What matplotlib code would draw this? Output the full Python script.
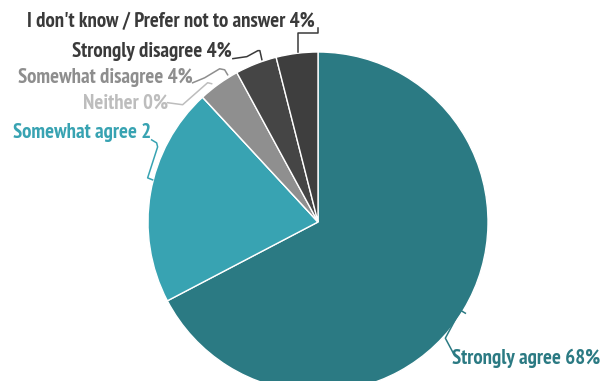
import matplotlib
matplotlib.use("Agg")
import matplotlib.pyplot as plt
import matplotlib.transforms as mtransforms
import numpy as np

# Survey responses
labels = ["Strongly agree 68%", "Somewhat agree 2", "Neither 0%",
          "Somewhat disagree 4%", "Strongly disagree 4%",
          "I don't know / Prefer not to answer 4%"]
values = [68, 21, 0, 4, 4, 4]
wedge_colors = ["#2b7a83", "#38a3b2", "#b9b9b9", "#8f8f8f", "#454545", "#3e3e3e"]
text_colors = ["#2b7a83", "#38a3b2", "#bdbdbd", "#8e8e8e", "#3a3a3a", "#3a3a3a"]

W, H = 611, 381
DPI = 100
fig = plt.figure(figsize=(W / DPI, H / DPI), dpi=DPI)

# pie geometry in pixels (y measured from top)
cx, cy, R = 318, 222, 170
ax = fig.add_axes([(cx - R) / W, (H - cy - R) / H, 2 * R / W, 2 * R / H])

wedges, _ = ax.pie(values, colors=wedge_colors, startangle=90, counterclock=False,
                   radius=1, wedgeprops=dict(edgecolor="white", linewidth=1.0))
ax.set_xlim(-1, 1)
ax.set_ylim(-1, 1)
ax.axis("off")

# leader paths (pixel offsets from each wedge's rim anchor) and label offsets
leaders = [
    [(-1, 1.4), (-6, -1.6), (-21, 26.4), (-13, 41.4)],
    [(5.5, -12.6), (0.5, -14.6), (10.5, -45.6), (9.5, -49.6), (4.5, -52.6)],
    [(11.4, -11), (7.4, -12), (-17.6, 10), (-32.6, 8)],
    [(10.7, -6.3), (7.7, -11.3), (2.7, -12.3), (-12.3, -3.3), (-24.3, 1.7)],
    [(7.1, -0.9), (5.1, -9.9), (3.1, -9.9), (-7.9, -3.9), (-21.9, -1.9)],
    [(1.4, 1.7), (1.4, -17.3), (21.4, -17.3), (21.4, -22.3)],
]
label_offsets = [(-14, 46.4, "left"), (4.5, -59.6, "right"), (-32.6, 8, "right"),
                 (-24.3, -3.3, "right"), (-22.9, -8.9, "right"), (18.4, -28.3, "right")]

# pixel coordinates with origin at top-left
px = mtransforms.Affine2D().scale(1, -1).translate(0, H)

total = sum(values)
start = 90.0
font = ["PT Sans Narrow", "Archivo Narrow", "DejaVu Sans"]
for i, v in enumerate(values):
    sweep = 360.0 * v / total
    mid = np.deg2rad(start - sweep / 2)
    start -= sweep
    ax_x = cx + R * 1.02 * np.cos(mid)
    ax_y = cy - R * 1.02 * np.sin(mid)
    xs = [ax_x + dx for dx, dy in leaders[i]]
    ys = [ax_y + dy for dx, dy in leaders[i]]
    fig.add_artist(plt.Line2D(xs, ys, transform=px, color=text_colors[i], lw=1.1))
    dx, dy, ha = label_offsets[i]
    fig.text(ax_x + dx, ax_y + dy, labels[i], transform=px, ha=ha, va="center",
             fontsize=15, fontweight="bold", color=text_colors[i], family=font)

fig.savefig("out.png", dpi=DPI)
